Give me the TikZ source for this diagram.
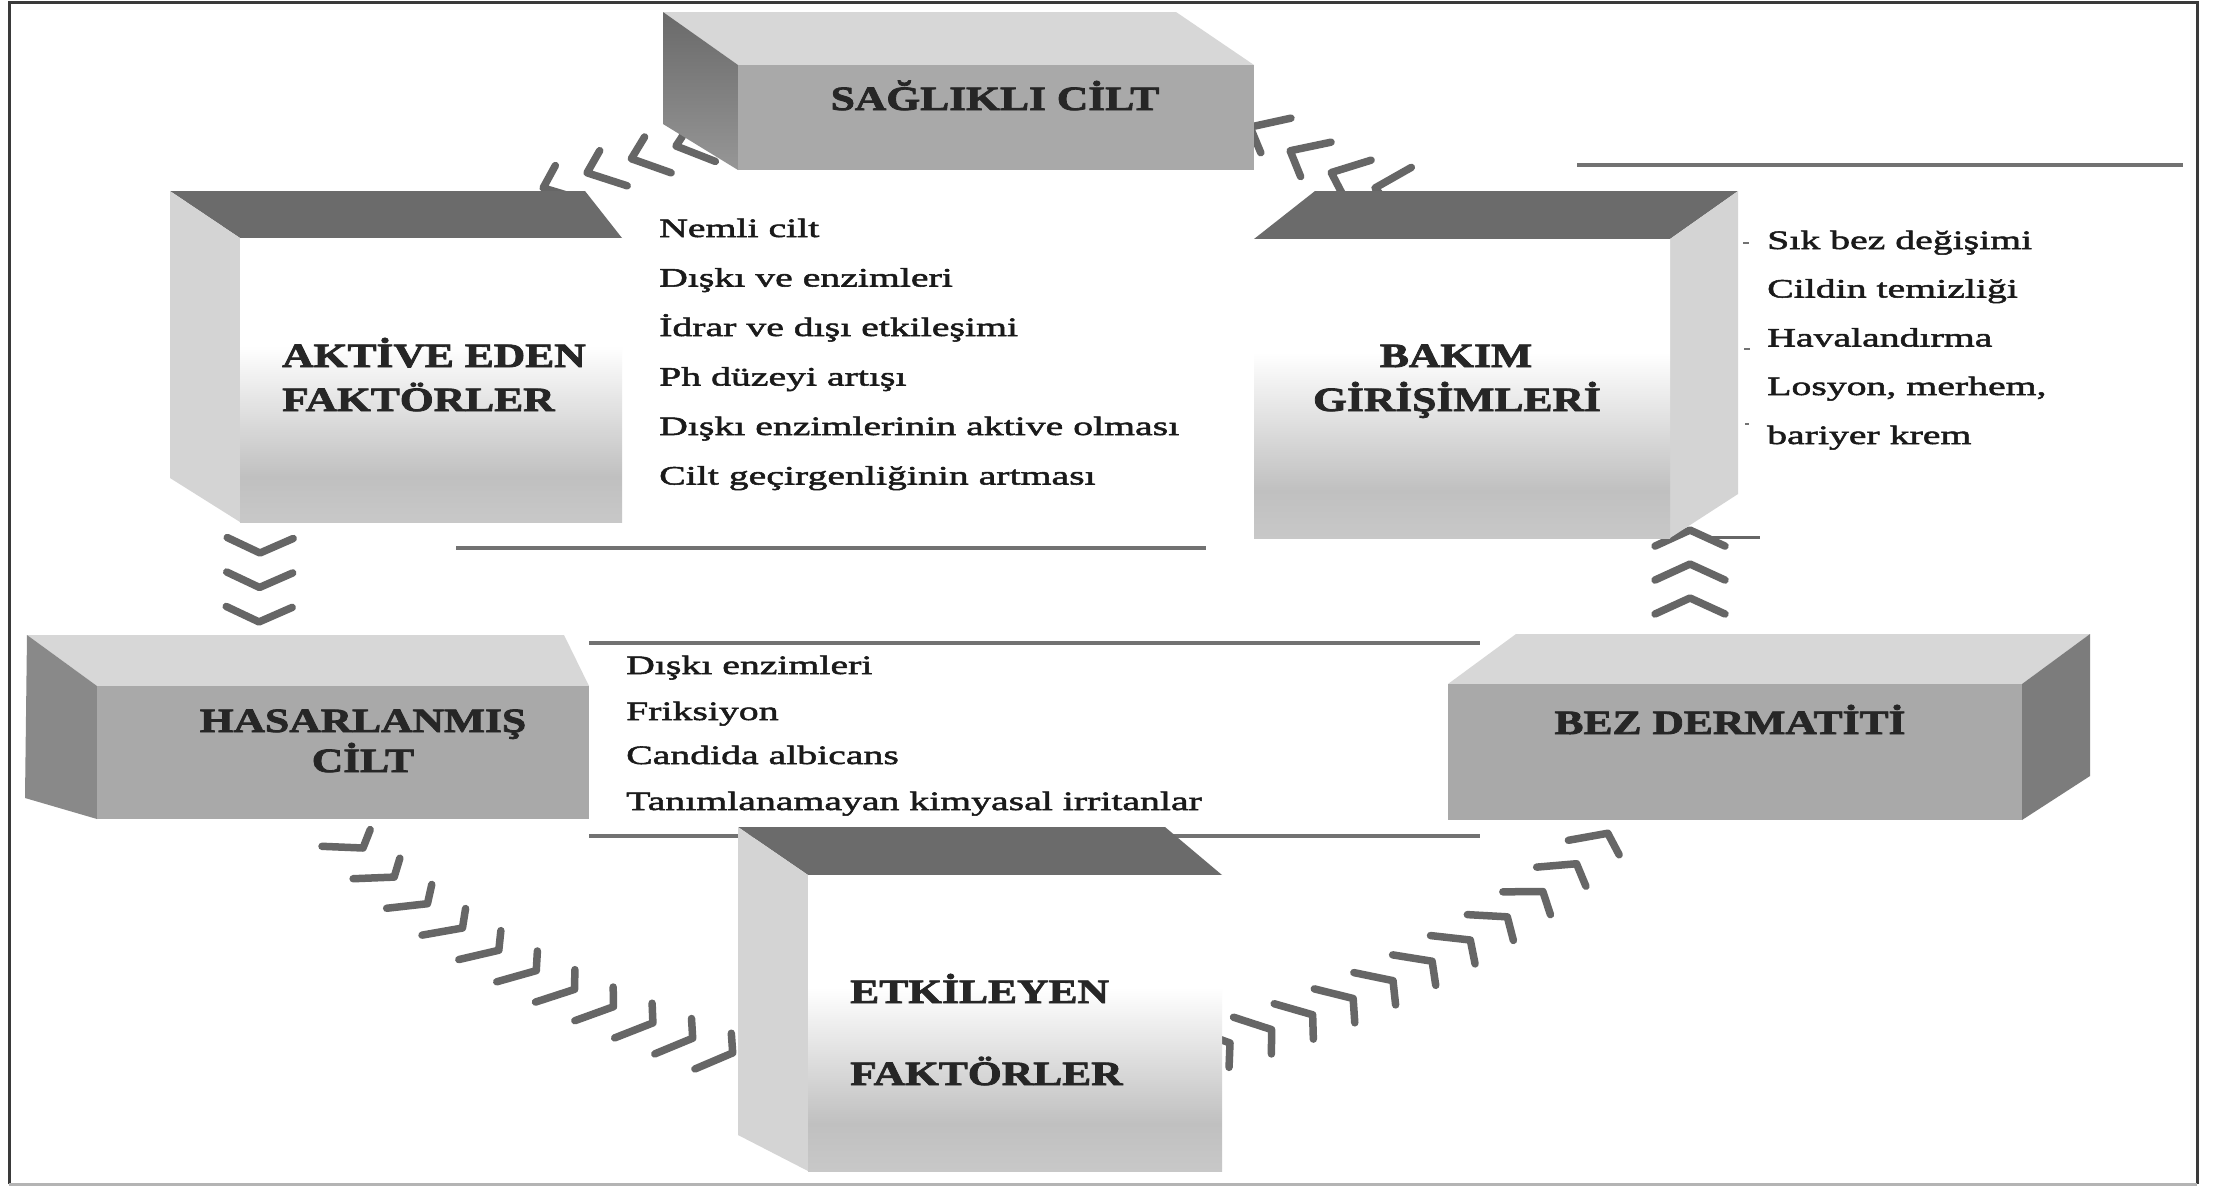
\documentclass[tikz,border=0pt]{standalone}
\usepackage{fontspec}
\setmainfont{Liberation Serif}
\newfontfamily\titlefont[FakeStretch=1.28,FakeBold=2.4]{Liberation Serif}
\newfontfamily\listfont[FakeStretch=1.5,FakeBold=2]{Liberation Serif}
\usetikzlibrary{decorations.markings}

\definecolor{framecol}{HTML}{3A3A3A}
\definecolor{framelow}{HTML}{B4B4B4}
\definecolor{chev}{HTML}{666666}
\definecolor{rulecol}{HTML}{727272}
\definecolor{darktop}{HTML}{6B6B6B}
\definecolor{lighttop}{HTML}{D7D7D7}
\definecolor{midfront}{HTML}{A9A9A9}
\definecolor{darkside}{HTML}{7C7C7C}
\definecolor{lightside}{HTML}{D4D4D4}
\definecolor{gradgray}{HTML}{C0C0C0}
\definecolor{gradlow}{HTML}{C8C8C8}
\definecolor{titlecol}{HTML}{262626}
\definecolor{textcol}{HTML}{1A1A1A}

\pgfdeclareverticalshading{frontgrad}{100bp}{color(0bp)=(gradlow); color(25bp)=(gradlow); color(33bp)=(gradgray); color(56bp)=(white); color(100bp)=(white)}

\begin{document}
\begin{tikzpicture}[x=1pt,y=-1pt,
  chevron/.style={draw=chev, line width=7.5pt, line cap=round, line join=round},
  chevchain/.style n args={5}{decoration={markings,
      mark=between positions 0 and 1 step #1 with {\draw[chevron] (#2pt,#3pt) -- (0pt,0pt) -- (#4pt,#5pt);}},
      postaction={decorate}},
  rulel/.style={draw=rulecol, line width=4pt},
  medfront/.style={fill=midfront, draw=none, inner sep=0pt, outer sep=0pt},
  gradfront/.style={shade, shading=frontgrad, draw=none, inner sep=0pt, outer sep=0pt},
  listtext/.style={font=\listfont\fontsize{26.5}{30}\selectfont, text=textcol, inner sep=0pt, anchor=base west},
  titletext/.style={font=\titlefont\bfseries\fontsize{34}{40}\selectfont, text=titlecol, inner sep=0pt},
  tick/.style={draw=rulecol, line width=2.5pt}
]
\useasboundingbox (0,0) rectangle (2225,1186);
\fill[white] (0,0) rectangle (2225,1186);

% rules
\draw[rulel] (456,548) -- (1206,548);
\draw[rulel] (1577,165) -- (2183,165);
\draw[rulel] (589,643) -- (1480,643);
\draw[rulel] (589,836) -- (1480,836);

% chain end points
\coordinate (sa1) at (676,146);
\coordinate (sa2) at (543,188);
\coordinate (bs1) at (1375,188);
\coordinate (bs2) at (1250,127);
\coordinate (ah1) at (260,553);
\coordinate (ah2) at (259,622);
\coordinate (he1) at (363,848);
\coordinate (he2) at (733,1053);
\coordinate (ez1) at (1230,1043);
\coordinate (ez2) at (1608,833);
\coordinate (zb1) at (1690,598);
\coordinate (zb2) at (1690,530);

% chevron chains
\path[chevchain={0.333}{-34}{25}{-19}{-17}] (sa1) .. controls +(-45,12) and +(45,-16) .. (sa2);
\path[chevchain={0.333}{-31}{-28}{-22}{17}] (bs1) .. controls +(-45,-10) and +(35,20) .. (bs2);
\path[chevchain={0.4995}{-15}{33}{-15}{-33}] (ah1) -- (ah2);
\path[chevchain={0.0999}{-30}{-28}{-8}{18}] (he1) .. controls +(105,106.5) and +(-113,-41) .. (he2);
\path[chevchain={0.0999}{-32}{24}{-8}{-23}] (ez1) .. controls +(143,-43.5) and +(-88.4,95) .. (ez2);
\path[chevchain={0.4995}{-16}{35}{-16}{-35}] (zb1) -- (zb2);

% SAGLIKLI CILT box
\fill[lighttop] (663,12) -- (1176,12) -- (1254,65) -- (738,65) -- cycle;
\shade[top color=darkside!85!black, bottom color=darkside!80!white] (663,12) -- (738,65) -- (738,170) -- (663,124) -- cycle;
\node[medfront, minimum width=516pt, minimum height=105pt] (sagF) at (996,117.5) {};

% AKTIVE EDEN box
\fill[darktop] (170,191) -- (585,191) -- (622,238) -- (240,238) -- cycle;
\fill[lightside] (170,191) -- (240,238) -- (240,522) -- (170,478) -- cycle;
\node[gradfront, minimum width=382pt, minimum height=284pt] (aktF) at (431,380) {};

% BAKIM box
\fill[darktop] (1315,191) -- (1738,191) -- (1670,239) -- (1254,239) -- cycle;
\fill[lightside] (1670,239) -- (1738,191) -- (1738,494) -- (1670,538) -- cycle;
\node[gradfront, minimum width=416pt, minimum height=299pt] (bakF) at (1462,388.5) {};

% HASARLANMIS box
\fill[lighttop] (27,635) -- (564,635) -- (589,686) -- (97,686) -- cycle;
\fill[darkside!90!white] (27,635) -- (97,686) -- (97,819) -- (25,798) -- cycle;
\node[medfront, minimum width=492pt, minimum height=133pt] (hasF) at (343,752.5) {};

% BEZ DERMATITI box
\fill[lighttop] (1516,634) -- (2090,634) -- (2022,684) -- (1448,684) -- cycle;
\fill[darkside] (2022,684) -- (2090,634) -- (2090,776) -- (2022,820) -- cycle;
\node[medfront, minimum width=574pt, minimum height=136pt] (bezF) at (1735,752) {};

% ETKILEYEN box
\fill[darktop] (738,827) -- (1165,827) -- (1222,875) -- (808,875) -- cycle;
\fill[lightside] (738,827) -- (808,875) -- (808,1171) -- (738,1135) -- cycle;
\node[gradfront, minimum width=414pt, minimum height=296pt] (etkF) at (1015,1023) {};

% small marks
\draw[chev, line width=3pt] (1700,537) -- (1760,537);
\draw[tick] (1743,243) -- (1749,243);
\draw[tick] (1744,349) -- (1750,349);
\draw[tick] (1745,424) -- (1749,424);

% titles
\node[titletext, anchor=base] (tSag) at (995,110) {SAĞLIKLI CİLT};
\node[titletext, anchor=base west] (tAkt1) at (282,367) {AKTİVE EDEN};
\node[titletext, anchor=base west] (tAkt2) at (282,411) {FAKTÖRLER};
\node[titletext, anchor=base] (tBak1) at (1456,367) {BAKIM};
\node[titletext, anchor=base] (tBak2) at (1457,411) {GİRİŞİMLERİ};
\node[titletext, anchor=base] (tHas1) at (363,732) {HASARLANMIŞ};
\node[titletext, anchor=base] (tHas2) at (363,772) {CİLT};
\node[titletext, anchor=base] (tBez) at (1730,734) {BEZ DERMATİTİ};
\node[titletext, anchor=base west] (tEtk1) at (850,1003) {ETKİLEYEN};
\node[titletext, anchor=base west] (tEtk2) at (850,1085) {FAKTÖRLER};

% lists
\node[listtext] (a1) at (659,237) {Nemli cilt};
\node[listtext] (a2) at (659,286.5) {Dışkı ve enzimleri};
\node[listtext] (a3) at (659,336) {İdrar ve dışı etkileşimi};
\node[listtext] (a4) at (659,385.5) {Ph düzeyi artışı};
\node[listtext] (a5) at (659,435) {Dışkı enzimlerinin aktive olması};
\node[listtext] (a6) at (659,484.5) {Cilt geçirgenliğinin artması};

\node[listtext] (b1) at (1767,249) {Sık bez değişimi};
\node[listtext] (b2) at (1767,297.5) {Cildin temizliği};
\node[listtext] (b3) at (1767,346.5) {Havalandırma};
\node[listtext] (b4) at (1767,395) {Losyon, merhem,};
\node[listtext] (b5) at (1767,444) {bariyer krem};

\node[listtext] (h1) at (626,674) {Dışkı enzimleri};
\node[listtext] (h2) at (626,720) {Friksiyon};
\node[listtext] (h3) at (626,764) {Candida albicans};
\node[listtext] (h4) at (626,810) {Tanımlanamayan kimyasal irritanlar};

% frame
\draw[framecol, line width=3pt] (9,1184) -- (9,2.5) -- (2197,2.5) -- (2197,1184);
\draw[framelow, line width=3pt] (9,1184) -- (2197,1184);
\end{tikzpicture}
\end{document}
